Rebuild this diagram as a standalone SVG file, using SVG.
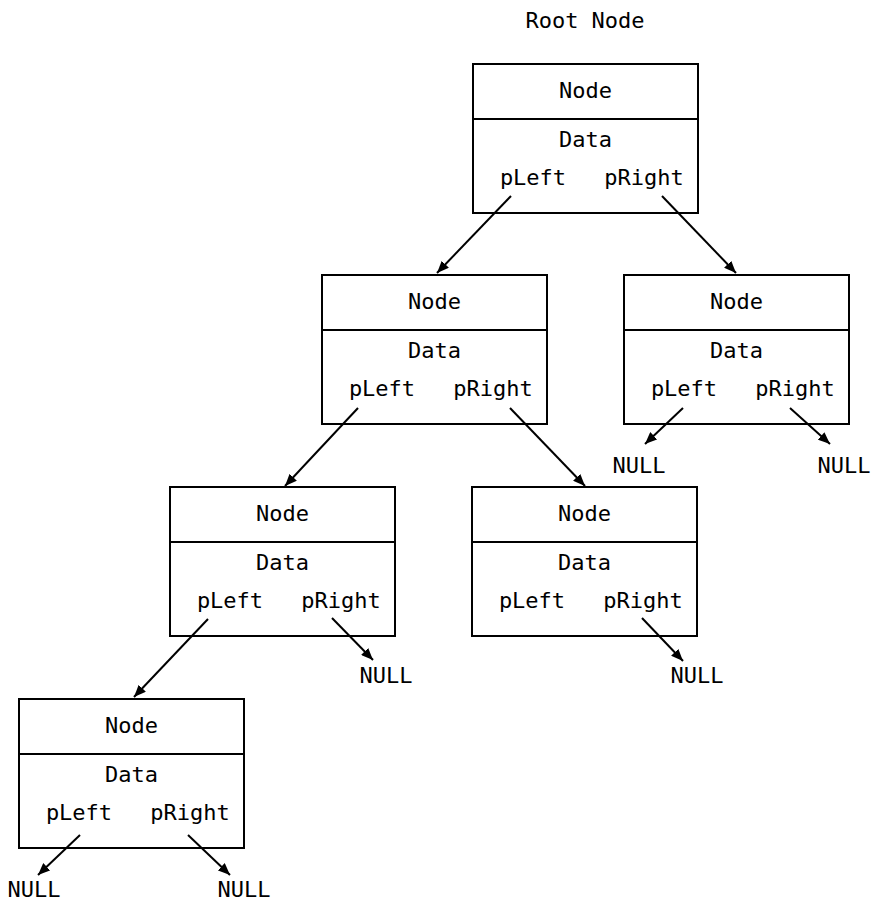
<svg xmlns="http://www.w3.org/2000/svg" width="871" height="902" viewBox="0 0 871 902">
<style>
.box{fill:#fff;stroke:#000;stroke-width:2}
.div{stroke:#000;stroke-width:2}
text{font-family:"DejaVu Sans Mono","Liberation Mono",monospace;font-size:22px;fill:#000;text-anchor:middle}
.c{stroke:#000;stroke-width:2;fill:none;marker-end:url(#ah)}
</style>
<defs>
<marker id="ah" viewBox="0 0 12 10" refX="12" refY="5" markerWidth="12" markerHeight="10" markerUnits="userSpaceOnUse" orient="auto">
<path d="M0,0 L12,5 L0,10 z" fill="#000"/>
</marker>
<g id="nodeShape">
<rect class="box" x="0" y="0" width="225" height="149"/>
<line class="div" x1="0" y1="55" x2="225" y2="55"/>
<text x="112.5" y="34">Node</text>
<text x="112.5" y="83">Data</text>
<text x="60" y="121">pLeft</text>
<text x="171" y="121">pRight</text>
</g>
</defs>
<text x="585" y="28">Root Node</text>
<g id="root"><use href="#nodeShape" x="473" y="64"/></g>
<g id="n2"><use href="#nodeShape" x="322" y="275"/></g>
<g id="n3"><use href="#nodeShape" x="624" y="275"/></g>
<g id="n4"><use href="#nodeShape" x="170" y="487"/></g>
<g id="n5"><use href="#nodeShape" x="472" y="487"/></g>
<g id="n6"><use href="#nodeShape" x="19" y="699"/></g>
<g id="nulls">
<text x="639" y="473">NULL</text>
<text x="844" y="473">NULL</text>
<text x="386" y="683">NULL</text>
<text x="697" y="683">NULL</text>
<text x="34" y="897">NULL</text>
<text x="244" y="897">NULL</text>
</g>
<g id="connectors">
<line class="c" x1="511" y1="196" x2="437" y2="273"/>
<line class="c" x1="662" y1="196" x2="736" y2="273"/>
<line class="c" x1="358" y1="408" x2="285" y2="486"/>
<line class="c" x1="510" y1="408" x2="585" y2="486"/>
<line class="c" x1="208" y1="619" x2="134" y2="697"/>
<line class="c" x1="683" y1="408" x2="645" y2="444"/>
<line class="c" x1="790" y1="408" x2="830" y2="444"/>
<line class="c" x1="332" y1="618" x2="373" y2="660"/>
<line class="c" x1="642" y1="618" x2="683" y2="661"/>
<line class="c" x1="80" y1="835" x2="38" y2="875"/>
<line class="c" x1="188" y1="835" x2="230" y2="875"/>
</g>
</svg>
